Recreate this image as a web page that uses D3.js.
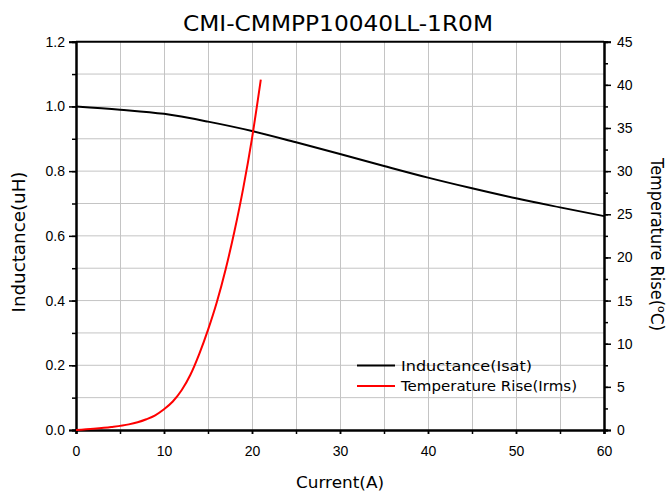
<!DOCTYPE html>
<html><head><meta charset="utf-8">
<script src="https://cdn.jsdelivr.net/npm/d3@7/dist/d3.min.js"></script>
<style>body{margin:0;background:#fff}svg{display:block}</style>
</head><body>
<svg id="c" width="670" height="493"></svg>
<script>
const title = "CMI-CMMPP10040LL-1R0M";
const currentA = [0, 5, 10, 15, 20, 25, 30, 35, 40, 45, 50, 55, 60];
const inductance = [1.0, 0.990, 0.977, 0.953, 0.924, 0.889, 0.853, 0.816, 0.780, 0.747, 0.716, 0.688, 0.661];
const tempCurrent = [0, 2, 4, 6, 7, 8, 9, 10, 11, 12, 13, 14, 15, 16, 17, 18, 19, 20, 21];
const tempRise = [0, 0.15, 0.35, 0.65, 0.9, 1.25, 1.7, 2.4, 3.3, 4.6, 6.4, 8.8, 11.6, 14.8, 18.6, 23.0, 28.0, 33.8, 40.6];
const xTicks = [0, 10, 20, 30, 40, 50, 60];
const yLeftTicks = [0, 0.2, 0.4, 0.6, 0.8, 1.0, 1.2];
const yRightTicks = [0, 5, 10, 15, 20, 25, 30, 35, 40, 45];
const seriesNames = ["Inductance(Isat)", "Temperature Rise(Irms)"];
const seriesColors = ["#000000", "#ff0000"];

const svg = d3.select("#c");
const m = {l: 76, r: 604, t: 41.7, b: 430};
const x = d3.scaleLinear().domain([0, 60]).range([m.l, m.r]);
const yL = d3.scaleLinear().domain([0, 1.2]).range([m.b, m.t]);
const yR = d3.scaleLinear().domain([0, 45]).range([m.b, m.t]);
const tickFont = "'Liberation Sans', Arial, sans-serif";
const titleFont = "'DejaVu Sans', sans-serif";

// grid
const g = svg.append("g");
g.selectAll("line.vx").data(d3.range(5, 60, 5)).join("line")
  .attr("x1", d => x(d)).attr("x2", d => x(d)).attr("y1", m.t).attr("y2", m.b)
  .attr("stroke", "#c4c4c4").attr("stroke-width", 1).attr("shape-rendering", "crispEdges");
g.selectAll("line.hy").data(d3.range(1, 12).map(i => i / 10)).join("line")
  .attr("x1", m.l).attr("x2", m.r).attr("y1", d => yL(d)).attr("y2", d => yL(d))
  .attr("stroke", "#c4c4c4").attr("stroke-width", 1);

// axes
function styleAxis(sel) {
  sel.select(".domain").attr("stroke", "#000").attr("stroke-width", 2);
  sel.selectAll(".tick line").attr("stroke", "#000").attr("stroke-width", 1.5);
  sel.selectAll("text").attr("font-family", tickFont).attr("font-size", 14).attr("fill", "#000");
}
const bottomAx = svg.append("g").attr("transform", `translate(0,${m.b})`)
  .call(d3.axisBottom(x).tickValues(d3.range(0, 61, 5)).tickSize(4).tickFormat(""));
styleAxis(bottomAx);
const bottomMaj = svg.append("g").attr("transform", `translate(0,${m.b})`)
  .call(d3.axisBottom(x).tickValues(xTicks).tickSize(4).tickPadding(12).tickFormat(d3.format("d")));
styleAxis(bottomMaj);

const leftAx = svg.append("g").attr("transform", `translate(${m.l},0)`)
  .call(d3.axisLeft(yL).tickValues(d3.range(0, 13).map(i => i / 10)).tickSize(4).tickFormat(""));
styleAxis(leftAx);
const leftMaj = svg.append("g").attr("transform", `translate(${m.l},0)`)
  .call(d3.axisLeft(yL).tickValues(yLeftTicks).tickSize(7).tickPadding(4).tickFormat(d3.format(".1f")));
styleAxis(leftMaj);

const rightAx = svg.append("g").attr("transform", `translate(${m.r},0)`)
  .call(d3.axisRight(yR).tickValues(d3.range(0, 46, 2.5)).tickSize(4).tickFormat(""));
styleAxis(rightAx);
const rightMaj = svg.append("g").attr("transform", `translate(${m.r},0)`)
  .call(d3.axisRight(yR).tickValues(yRightTicks).tickSize(7).tickPadding(6).tickFormat(d3.format("d")));
styleAxis(rightMaj);

svg.append("line").attr("x1", m.l).attr("x2", m.r).attr("y1", m.t).attr("y2", m.t)
  .attr("stroke", "#000").attr("stroke-width", 2);

// lines
const lineL = d3.line().x((d, i) => x(currentA[i])).y(d => yL(d)).curve(d3.curveMonotoneX);
svg.append("path").attr("d", lineL(inductance)).attr("fill", "none")
  .attr("stroke", seriesColors[0]).attr("stroke-width", 2);
const lineR = d3.line().x((d, i) => x(tempCurrent[i])).y(d => yR(d)).curve(d3.curveMonotoneX);
svg.append("path").attr("d", lineR(tempRise)).attr("fill", "none")
  .attr("stroke", seriesColors[1]).attr("stroke-width", 2);

// title
svg.append("text").attr("x", 338).attr("y", 30.5).attr("text-anchor", "middle")
  .attr("font-family", titleFont).attr("font-size", 21).attr("textLength", 310)
  .attr("lengthAdjust", "spacingAndGlyphs").text(title);

// axis titles
svg.append("text").attr("x", x(30)).attr("y", 488).attr("text-anchor", "middle")
  .attr("font-family", titleFont).attr("font-size", 16).attr("textLength", 88)
  .attr("lengthAdjust", "spacingAndGlyphs").text("Current(A)");
svg.append("text").attr("transform", `translate(25,242) rotate(-90)`)
  .attr("text-anchor", "middle").attr("font-family", titleFont).attr("font-size", 17)
  .attr("textLength", 141).attr("lengthAdjust", "spacingAndGlyphs")
  .text("Inductance(uH)");
const rt = svg.append("text").attr("transform", `translate(651,158) rotate(90)`)
  .attr("text-anchor", "start").attr("font-family", titleFont).attr("font-size", 17);
rt.append("tspan").attr("textLength", 148).attr("lengthAdjust", "spacingAndGlyphs").text("Temperature Rise(");
rt.append("tspan").attr("font-size", 11).attr("dy", -7).text("o");
rt.append("tspan").attr("dy", 7).text("C)");

// legend
const leg = svg.append("g");
seriesNames.forEach((n, i) => {
  const yy = 365.5 + i * 20.5;
  leg.append("line").attr("x1", 357).attr("x2", 395).attr("y1", yy).attr("y2", yy)
    .attr("stroke", seriesColors[i]).attr("stroke-width", 2);
  leg.append("text").attr("x", 401).attr("y", yy + 5).attr("font-family", titleFont)
    .attr("font-size", 14).attr("textLength", i === 0 ? 131 : 176)
    .attr("lengthAdjust", "spacingAndGlyphs").text(n);
});
</script>
</body></html>
